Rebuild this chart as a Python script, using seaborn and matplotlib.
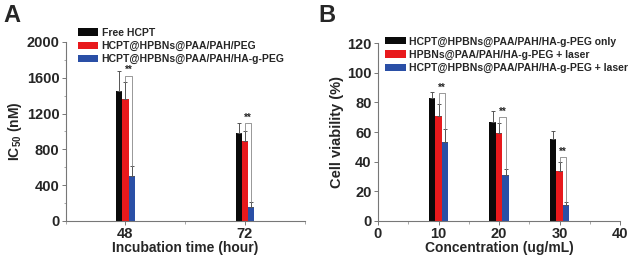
import numpy as np
import pandas as pd
import matplotlib
matplotlib.use("Agg")
import matplotlib.pyplot as plt
import seaborn as sns

# ---- Data ----
a_times = [48, 72]
a_groups = ["Free HCPT", "HCPT@HPBNs@PAA/PAH/PEG", "HCPT@HPBNs@PAA/PAH/HA-g-PEG"]
a_free = [1450, 980]
a_peg = [1360, 890]
a_ha = [500, 160]
a_free_err = [230, 120]
a_peg_err = [190, 120]
a_ha_err = [110, 50]

b_conc = [10, 20, 30]
b_groups = ["HCPT@HPBNs@PAA/PAH/HA-g-PEG only", "HPBNs@PAA/PAH/HA-g-PEG + laser",
            "HCPT@HPBNs@PAA/PAH/HA-g-PEG + laser"]
b_only = [83, 67, 55]
b_laser = [71, 59, 34]
b_combo = [53, 31, 11]
b_only_err = [4, 7, 6]
b_laser_err = [8, 7, 6]
b_combo_err = [9, 4, 2]

colors = ["#0a0a0a", "#e8191c", "#2a4fa6"]

sns.set_theme(style="ticks")
plt.rcParams['font.family'] = ['Liberation Sans', 'DejaVu Sans']
plt.rcParams['font.weight'] = 'bold'
plt.rcParams['mathtext.fontset'] = 'custom'
plt.rcParams['mathtext.rm'] = 'Liberation Sans:bold'
plt.rcParams['mathtext.bf'] = 'Liberation Sans:bold'

fig = plt.figure(figsize=(6.31, 2.64), dpi=100)
axA = fig.add_axes([0.104, 0.163, 0.379, 0.678])
axB = fig.add_axes([0.599, 0.163, 0.384, 0.674])


def make_df(xs, groups, vals):
    rows = []
    for g, v in zip(groups, vals):
        for x, y in zip(xs, v):
            rows.append({"x": x, "y": y, "group": g})
    return pd.DataFrame(rows)


dfA = make_df(a_times, a_groups, [a_free, a_peg, a_ha])
dfB = make_df(b_conc, b_groups, [b_only, b_laser, b_combo])

sns.barplot(data=dfA, x="x", y="y", hue="group", hue_order=a_groups, palette=colors,
            native_scale=True, width=0.155, errorbar=None, ax=axA, saturation=1,
            linewidth=0)
sns.barplot(data=dfB, x="x", y="y", hue="group", hue_order=b_groups, palette=colors,
            native_scale=True, width=0.32, errorbar=None, ax=axB, saturation=1,
            linewidth=0)


def bar_centers(ax, n_groups):
    cs = []
    for i in range(n_groups):
        cont = ax.containers[i]
        cs.append([p.get_x() + p.get_width() / 2 for p in cont])
    return cs


def add_err(ax, centers, vals, errs):
    for c, v, e in zip(centers, vals, errs):
        ax.errorbar(c, v, yerr=[[0] * len(v), e], fmt="none", ecolor="#555555",
                    elinewidth=0.7, capsize=1.6, capthick=0.7, zorder=3)


def add_brackets(ax, cr, cb, red_top, blue_top, level, star_off, fs):
    for xr, xb, rt, bt, lv in zip(cr, cb, red_top, blue_top, level):
        ax.plot([xr, xr, xb, xb], [rt, lv, lv, bt], color="#888888", lw=0.6, zorder=4)
        ax.text((xr + xb) / 2, lv + star_off * 0.2, "**", ha="center", va="bottom",
                fontsize=fs, fontweight="bold")


cA = bar_centers(axA, 3)
add_err(axA, cA, [a_free, a_peg, a_ha], [a_free_err, a_peg_err, a_ha_err])
a_red_top = [v + e for v, e in zip(a_peg, a_peg_err)]
a_blue_top = [v + e for v, e in zip(a_ha, a_ha_err)]
a_levels = [1620, 1090]
add_brackets(axA, cA[1], cA[2], a_red_top, a_blue_top, a_levels, 40, 7)

cB = bar_centers(axB, 3)
add_err(axB, cB, [b_only, b_laser, b_combo], [b_only_err, b_laser_err, b_combo_err])
b_red_top = [v + e for v, e in zip(b_laser, b_laser_err)]
b_blue_top = [v + e for v, e in zip(b_combo, b_combo_err)]
b_levels = [86, 70, 43]
add_brackets(axB, cB[1], cB[2], b_red_top, b_blue_top, b_levels, 2, 7)

# ---- axes styling ----
for ax in (axA, axB):
    sns.despine(ax=ax)
    for s in ("left", "bottom"):
        ax.spines[s].set_color("#777777")
        ax.spines[s].set_linewidth(0.8)
    ax.tick_params(axis="both", which="major", length=3, width=0.7, color="#777777",
                   labelsize=10.5, pad=1.5)
    ax.tick_params(axis="both", which="minor", length=1.8, width=0.6, color="#999999")

axA.set_xlim(36, 84)
axA.set_ylim(0, 2000)
axA.set_xticks(a_times)
axA.set_xticklabels([str(t) for t in a_times], fontweight="bold")
axA.set_xticks([36, 60, 84], minor=True)
axA.set_yticks([0, 400, 800, 1200, 1600, 2000])
axA.set_yticklabels(["0", "400", "800", "1200", "1600", "2000"], fontweight="bold")
axA.set_yticks([200, 600, 1000, 1400, 1800], minor=True)
axA.set_xlabel("Incubation time (hour)", fontsize=10, fontweight="bold", labelpad=0)
axA.set_ylabel(r"IC$_{50}$ (nM)", fontsize=10, fontweight="bold", labelpad=2)

axB.set_xlim(0, 40)
axB.set_ylim(0, 120)
axB.set_xticks([0, 10, 20, 30, 40])
axB.set_xticklabels(["0", "10", "20", "30", "40"], fontweight="bold")
axB.set_xticks([5, 15, 25, 35], minor=True)
axB.set_yticks([0, 20, 40, 60, 80, 100, 120])
axB.set_yticklabels(["0", "20", "40", "60", "80", "100", "120"], fontweight="bold")
axB.set_xlabel("Concentration (ug/mL)", fontsize=10, fontweight="bold", labelpad=0)
axB.set_ylabel("Cell viability (%)", fontsize=10.5, fontweight="bold", labelpad=2)

leg_kw = dict(loc="upper left", bbox_transform=fig.transFigure, frameon=False,
              fontsize=7.5, handlelength=2.0, handleheight=0.7, handletextpad=0.3,
              labelspacing=0.3, borderaxespad=0, borderpad=0)
legA = axA.legend(bbox_to_anchor=(0.123, 0.895), **leg_kw)
legB = axB.legend(bbox_to_anchor=(0.610, 0.862), **leg_kw)
for leg in (legA, legB):
    for t in leg.get_texts():
        t.set_fontweight("bold")

fig.text(0.006, 0.985, "A", fontsize=17, fontweight="bold", va="top", ha="left")
fig.text(0.505, 0.985, "B", fontsize=17, fontweight="bold", va="top", ha="left")

fig.savefig("out.png", dpi=100)
